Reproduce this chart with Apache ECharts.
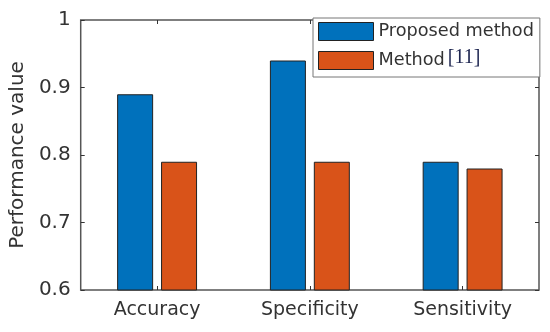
<!DOCTYPE html>
<html>
<head>
<meta charset="utf-8">
<script src="https://cdn.jsdelivr.net/npm/echarts@6/dist/echarts.min.js"></script>
<style>
html,body{margin:0;padding:0;background:#fff;}
#chart{width:550px;height:332px;}
</style>
</head>
<body>
<div id="chart"></div>
<script>
const categories = ['Accuracy', 'Specificity', 'Sensitivity'];
const proposedValues = [0.89, 0.94, 0.79];
const method11Values = [0.79, 0.79, 0.78];
const yTicks = [0.6, 0.7, 0.8, 0.9, 1];
const seriesNames = ['Proposed method', 'Method [11]'];

const font = 'DejaVu Sans';
const chart = echarts.init(document.getElementById('chart'), null, {renderer: 'canvas'});
const frameColor = '#555';
chart.setOption({
  animation: false,
  backgroundColor: '#fff',
  grid: {left: 80, right: 11, top: 20, bottom: 42, show: true, borderColor: frameColor, borderWidth: 1.5, backgroundColor: 'transparent'},
  legend: {
    left: 313, top: 18, orient: 'vertical',
    icon: 'rect',
    itemWidth: 55, itemHeight: 18, itemGap: 7,
    padding: [4, 6, 4, 5],
    backgroundColor: '#fff', borderColor: '#777', borderWidth: 1,
    itemStyle: {borderColor: '#222', borderWidth: 1},
    data: seriesNames,
    formatter: function (name) {
      if (name === 'Method [11]') return '{a|Method}{b|[11]}';
      return '{a|' + name + '}';
    },
    textStyle: {
      fontFamily: font, fontSize: 17.7, color: '#333',
      rich: {
        a: {fontFamily: font, fontSize: 17.7, color: '#333'},
        b: {fontFamily: 'Liberation Serif', fontSize: 20, color: '#1d2550', backgroundColor: '#fff', padding: [0, 3, 5, 3]}
      }
    }
  },
  xAxis: [
    {
      type: 'category', data: categories, position: 'bottom',
      axisLine: {show: false},
      axisTick: {show: true, inside: true, alignWithLabel: true, length: 4, lineStyle: {color: '#333'}},
      axisLabel: {fontFamily: font, fontSize: 19, color: '#333', margin: 11}
    },
    {
      type: 'category', data: categories, position: 'top',
      axisLine: {show: false},
      axisTick: {show: true, inside: true, alignWithLabel: true, length: 4, lineStyle: {color: '#333'}},
      axisLabel: {show: false}
    }
  ],
  yAxis: [
    {
      type: 'value', min: 0.6, max: 1, interval: 0.1, position: 'left',
      name: 'Performance value', nameLocation: 'middle', nameGap: 50,
      nameTextStyle: {fontFamily: font, fontSize: 20, color: '#333'},
      axisLine: {show: false},
      splitLine: {show: false},
      axisTick: {show: true, inside: true, length: 4, lineStyle: {color: '#333'}},
      axisLabel: {fontFamily: font, fontSize: 20, color: '#333', margin: 10,
        formatter: function (v) { const t = yTicks.find(x => Math.abs(x - v) < 1e-9); return t === undefined ? '' : String(t); }}
    },
    {
      type: 'value', min: 0.6, max: 1, interval: 0.1, position: 'right',
      axisLine: {show: false}, splitLine: {show: false},
      axisTick: {show: true, inside: true, length: 4, lineStyle: {color: '#333'}},
      axisLabel: {show: false}
    }
  ],
  series: [
    {
      name: seriesNames[0], type: 'bar', data: proposedValues, barWidth: 36, barGap: '22%',
      itemStyle: {color: '#0071BC', borderColor: '#222', borderWidth: 1}
    },
    {
      name: seriesNames[1], type: 'bar', data: method11Values, barWidth: 36, barGap: '22%',
      itemStyle: {color: '#D95319', borderColor: '#222', borderWidth: 1}
    }
  ]
});
</script>
</body>
</html>
